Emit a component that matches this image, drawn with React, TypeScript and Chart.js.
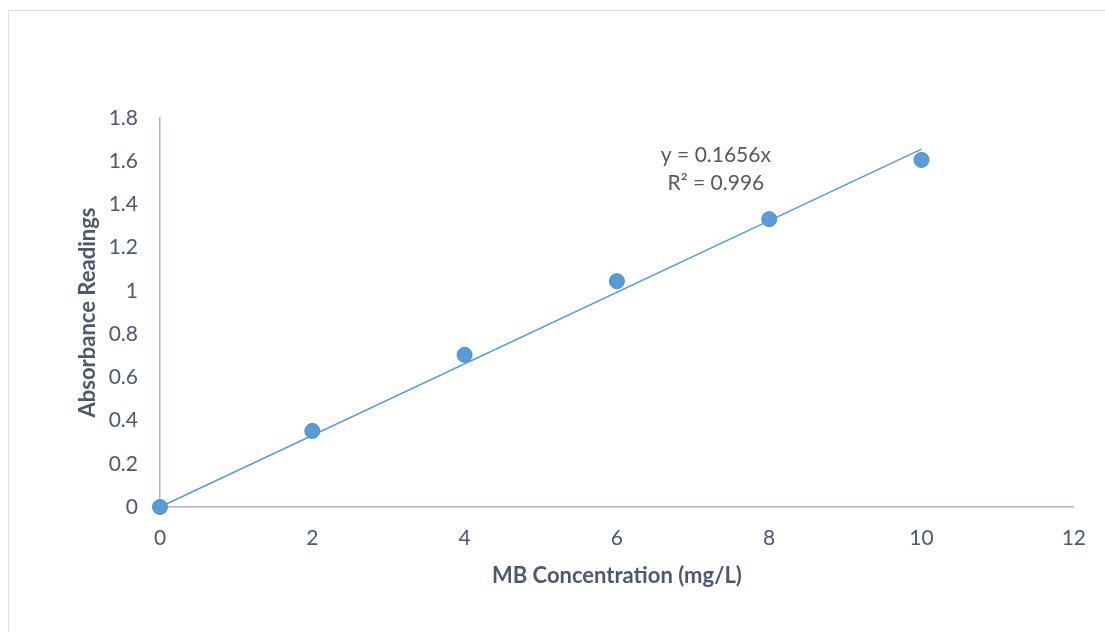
import React, { useEffect, useRef } from "react";
import { Chart, registerables } from "chart.js";

Chart.register(...registerables);

// Data
const concentrations = [0, 2, 4, 6, 8, 10];
const absorbance = [0, 0.352, 0.704, 1.045, 1.332, 1.606];
const trendX = [0, 10];
const trendY = [0, 1.656];
const equationLines = ["y = 0.1656x", "R² = 0.996"];
const equationAnchor = { x: 7.3, y: [1.627, 1.497] };
const xTicks = [0, 2, 4, 6, 8, 10, 12];
const yTicks = [0, 0.2, 0.4, 0.6, 0.8, 1, 1.2, 1.4, 1.6, 1.8];
const xTitle = "MB Concentration (mg/L)";
const yTitle = "Absorbance Readings";

const FONT = "Lato, 'Open Sans', sans-serif";
const TICK_COLOR = "#4d5a6e";
const AXIS_COLOR = "#a9b6c9";
const SERIES_COLOR = "#5b9bd5";

const frameAndLabels = {
  id: "frameAndLabels",
  beforeDraw(chart: any) {
    const ctx = chart.ctx;
    ctx.save();
    ctx.fillStyle = "#ffffff";
    ctx.fillRect(0, 0, chart.width, chart.height);
    ctx.strokeStyle = "#dde0ea";
    ctx.lineWidth = 1;
    ctx.beginPath();
    ctx.moveTo(8.5, chart.height);
    ctx.lineTo(8.5, 10.5);
    ctx.lineTo(chart.width, 10.5);
    ctx.stroke();
    ctx.restore();
  },
  afterDatasetsDraw(chart: any) {
    const ctx = chart.ctx;
    const xs = chart.scales.x;
    const ys = chart.scales.y;
    ctx.save();
    ctx.fillStyle = "#595959";
    ctx.font = `21px ${FONT}`;
    ctx.textAlign = "center";
    ctx.textBaseline = "middle";
    equationLines.forEach((t, i) => {
      ctx.fillText(t, xs.getPixelForValue(equationAnchor.x), ys.getPixelForValue(equationAnchor.y[i]));
    });
    ctx.restore();
  },
};

export default function App() {
  const ref = useRef<HTMLCanvasElement | null>(null);
  useEffect(() => {
    if (!ref.current) return;
    const chart = new Chart(ref.current, {
      type: "scatter",
      data: {
        datasets: [
          {
            type: "line",
            label: "Trend",
            data: trendX.map((x, i) => ({ x, y: trendY[i] })),
            borderColor: SERIES_COLOR,
            borderWidth: 1.5,
            pointRadius: 0,
            fill: false,
            clip: false,
            order: 2,
          } as any,
          {
            label: "Absorbance",
            data: concentrations.map((x, i) => ({ x, y: absorbance[i] })),
            backgroundColor: SERIES_COLOR,
            borderColor: "#4f8fcc",
            borderWidth: 1,
            pointRadius: 7.5,
            clip: false,
            order: 1,
          } as any,
        ],
      },
      options: {
        responsive: false,
        animation: false,
        layout: { padding: { left: 70, top: 118, right: 31, bottom: 40 } },
        plugins: {
          legend: { display: false },
          tooltip: { enabled: false },
        },
        scales: {
          x: {
            type: "linear",
            min: 0,
            max: 12,
            afterBuildTicks: (s: any) => {
              s.ticks = xTicks.map((v) => ({ value: v }));
            },
            afterFit: (s: any) => {
              s.height = 85;
            },
            grid: { display: true, color: "transparent", drawTicks: false },
            border: { display: true, color: AXIS_COLOR, width: 1.5 },
            ticks: {
              padding: 19,
              color: TICK_COLOR,
              font: { family: FONT, size: 21 },
              maxRotation: 0,
            },
            title: {
              display: true,
              text: xTitle,
              color: TICK_COLOR,
              font: { family: FONT, size: 22, weight: "bold" },
              padding: { top: 0, bottom: 3 },
            },
          },
          y: {
            type: "linear",
            min: 0,
            max: 1.8,
            afterBuildTicks: (s: any) => {
              s.ticks = yTicks.map((v) => ({ value: v }));
            },
            afterFit: (s: any) => {
              s.width = 90;
            },
            grid: { display: true, color: "transparent", drawTicks: false },
            border: { display: true, color: AXIS_COLOR, width: 1.5 },
            ticks: {
              padding: 22,
              color: TICK_COLOR,
              font: { family: FONT, size: 21 },
              callback: (v: any) => String(Number(Number(v).toFixed(1))),
            },
            title: {
              display: true,
              text: yTitle,
              color: TICK_COLOR,
              font: { family: FONT, size: 22, weight: "bold" },
              padding: { top: 4.8, bottom: 0 },
            },
          },
        },
      },
      plugins: [frameAndLabels],
    });
    return () => chart.destroy();
  }, []);
  return (
    <div style={{ position: "absolute", left: 0, top: 0, width: 1105, height: 632, background: "#fff" }}>
      <canvas ref={ref} width={1105} height={632} style={{ display: "block" }} />
    </div>
  );
}
